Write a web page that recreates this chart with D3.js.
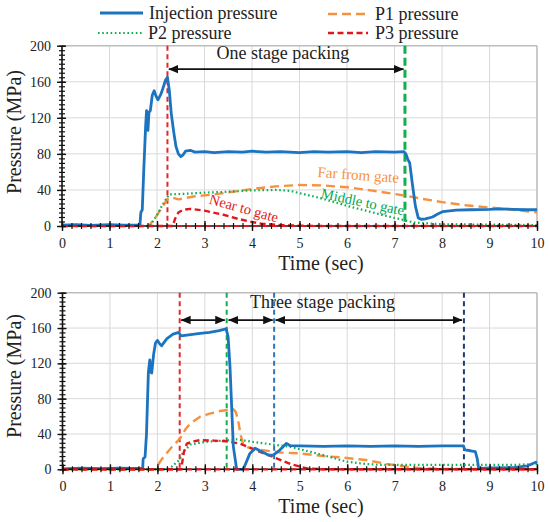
<!DOCTYPE html>
<html>
<head>
<meta charset="utf-8">
<script src="https://cdn.jsdelivr.net/npm/d3@7"></script>
<style>
  body { margin: 0; background: #fff; }
  text { font-family: "Liberation Serif", "Times New Roman", serif; fill: #222; }
</style>
</head>
<body>
<script>
"use strict";

// ---- data (time in sec, pressure in MPa) ----
var timeTicks = [0, 1, 2, 3, 4, 5, 6, 7, 8, 9, 10];
var pressureTicks = [0, 40, 80, 120, 160, 200];

var topInjection = [[0,1],[0.3,1.5],[0.6,0.8],[1,1.4],[1.3,0.9],[1.64,1],[1.66,15],[1.69,18],[1.72,60],[1.76,110],
  [1.78,128],[1.8,112],[1.81,106],[1.83,126],[1.86,128],[1.9,145],[1.94,150],[1.98,144],[2.02,140],[2.08,146],
  [2.12,152],[2.18,162],[2.22,165],[2.26,150],[2.3,125],[2.35,105],[2.4,88],[2.45,80],[2.5,77],[2.55,79],
  [2.6,83],[2.7,84],[2.8,82],[3,82.5],[3.2,81.5],[3.5,82.5],[3.8,82],[4,83],[4.3,82],[4.6,82.5],[5,81.5],
  [5.3,82.5],[5.6,82],[6,82.5],[6.3,81.5],[6.6,82.5],[7,82],[7.2,82.5],[7.24,80],[7.28,74],[7.32,70],
  [7.38,45],[7.44,22],[7.5,9],[7.56,7.5],[7.65,8],[7.8,10],[7.9,13],[8.02,16],[8.3,17.5],[8.6,18],[9,18.5],
  [9.2,19],[9.5,18.5],[9.8,18],[10,18]];
var topP1 = [[0,0],[1.83,0],[2,12],[2.1,20],[2.22,30],[2.3,32],[2.45,29.5],[2.6,31],[2.8,33],[3.2,35],[3.6,38],
  [4,41],[4.5,44],[5,45.5],[5.5,45],[6,43],[6.5,39.5],[7,35.5],[7.3,33],[7.6,30],[8,26.5],[8.5,23],[9,20.5],
  [9.5,18],[10,15]];
var topP2 = [[0,0],[1.85,0],[2,12],[2.1,22],[2.25,35],[2.5,35.5],[3,37],[3.5,38],[4,39.5],[4.5,40],[4.8,39],
  [5,36.5],[5.43,31],[5.8,25.5],[6.06,21.5],[6.4,17],[6.76,12],[7.19,6.7],[7.4,4],[7.7,3],[8,2],[9,1.5],[10,1]];
var topP3 = [[0,0],[2.33,0],[2.38,8],[2.45,15],[2.55,18],[2.7,19],[3,17],[3.4,12.5],[3.7,8],[3.95,5],
  [4.2,2.5],[4.6,1],[5,0.3],[5.5,0],[10,0]];

var bottomInjection = [[0,0.5],[0.4,1.2],[0.8,0.8],[1.2,1.4],[1.5,1],[1.69,1],[1.7,12],[1.74,14],[1.77,40],
  [1.81,110],[1.84,124],[1.86,110],[1.88,109],[1.92,130],[1.96,143],[2,146],[2.05,142],[2.09,140],[2.2,148],
  [2.33,153],[2.45,155],[2.5,151],[2.7,152.5],[2.9,154],[3.1,155],[3.3,157],[3.45,159],[3.49,150],[3.53,116],
  [3.6,26],[3.67,0],[3.81,0],[3.88,9],[3.95,18],[4.06,23.8],[4.2,20],[4.35,16],[4.44,16],[4.58,21.8],
  [4.72,29.4],[4.8,26.7],[5,26.5],[5.5,26],[6,26.5],[6.5,26],[7,26.5],[7.5,26],[8,26.5],[8.45,26.5],
  [8.48,22],[8.6,21],[8.7,20],[8.74,12],[8.77,1],[9,1.5],[9.5,2],[9.8,4],[10,8.5]];
var bottomP1 = [[0,0],[1.95,0],[2.1,12],[2.3,25],[2.48,35],[2.6,46],[2.7,52],[2.9,59.5],[3.1,63],[3.32,66],
  [3.6,68],[3.65,65],[3.7,56],[3.75,40],[3.8,30],[3.9,25],[4.16,22],[4.6,19],[5,18],[5.5,15],[5.85,13.6],
  [6.4,10.5],[6.83,6],[7.25,3],[7.6,1],[8,0.5],[10,0]];
var bottomP2 = [[0,0],[2.2,0],[2.3,3],[2.45,10],[2.55,20],[2.7,28],[3,31],[3.4,32.5],[3.67,34],[4.02,31],
  [4.58,27],[4.79,25.6],[5.43,17],[5.99,8.6],[6.4,6],[6.69,5],[7.5,5],[8.5,5],[9.5,5],[10,6]];
var bottomP3 = [[0,0],[2.5,0],[2.53,10],[2.56,20],[2.62,29],[2.75,31.5],[2.9,33],[3.2,32.5],[3.46,31.7],
  [3.74,29],[3.88,26],[4.1,21],[4.44,14],[4.8,6],[5.15,1],[5.5,0],[10,0]];

var topMarkerTimes = [2.22, 7.22];
var bottomMarkerTimes = [2.47, 3.46, 4.46, 8.46];
var topArrowSpans = [[2.25, 7.19]];
var bottomArrowSpans = [[2.5, 3.42], [3.5, 4.43], [4.49, 8.42]];

var legendNames = ["Injection pressure", "P1 pressure", "P2 pressure", "P3 pressure"];

// ---- styles ----
var cInj = "#1c74c0", cP1 = "#f6923f", cP2 = "#0fae55", cP3 = "#e3171b";
var cGrid = "#d9d9d9";

var svg = d3.select("body").append("svg")
  .attr("width", 550).attr("height", 522);

var defs = svg.append("defs");
defs.append("marker").attr("id", "ahead")
  .attr("viewBox", "0 0 10 10").attr("refX", 9.5).attr("refY", 5)
  .attr("markerWidth", 10).attr("markerHeight", 10)
  .attr("markerUnits", "userSpaceOnUse")
  .attr("orient", "auto-start-reverse")
  .append("path").attr("d", "M0,0.8 L10,5 L0,9.2 Z").attr("fill", "#111");

var lineStyles = [
  {color: cInj, width: 2.8, dash: null},
  {color: cP1, width: 2.4, dash: "9,5"},
  {color: cP2, width: 2.2, dash: "1.6,2.6"},
  {color: cP3, width: 2.4, dash: "6,3.5"}
];

function drawPanel(box, series, markerTimes, markerColors, markerWidths, arrows, arrowP) {
  var x = d3.scaleLinear().domain([0, 10]).range([box.left, box.right]);
  var y = d3.scaleLinear().domain([0, 200]).range([box.bottom, box.top]);
  var g = svg.append("g");

  // grid
  g.append("g").selectAll("line").data(timeTicks.slice(1, 10)).enter().append("line")
    .attr("x1", x).attr("x2", x).attr("y1", box.top).attr("y2", box.bottom)
    .attr("stroke", cGrid).attr("stroke-width", 1);
  g.append("g").selectAll("line").data(pressureTicks.slice(1, 5)).enter().append("line")
    .attr("x1", box.left).attr("x2", box.right).attr("y1", y).attr("y2", y)
    .attr("stroke", cGrid).attr("stroke-width", 1);
  // frame top / right
  g.append("line").attr("x1", box.left).attr("x2", box.right).attr("y1", y(200)).attr("y2", y(200))
    .attr("stroke", "#bdbdbd").attr("stroke-width", 1.6);
  g.append("line").attr("x1", x(10)).attr("x2", x(10)).attr("y1", box.top).attr("y2", box.bottom)
    .attr("stroke", "#bdbdbd").attr("stroke-width", 1.6);

  // vertical markers
  markerTimes.forEach(function(t, i) {
    g.append("line").attr("x1", x(t)).attr("x2", x(t)).attr("y1", box.top).attr("y2", box.bottom)
      .attr("stroke", markerColors[i]).attr("stroke-width", markerWidths[i])
      .attr("stroke-dasharray", markerWidths[i] > 2.5 ? "8,4" : "5,3.5");
  });

  // series
  var line = d3.line().x(function(d) { return x(d[0]); }).y(function(d) { return y(d[1]); });
  [1, 2, 3, 0].forEach(function(k) {
    var st = lineStyles[k];
    g.append("path").datum(series[k]).attr("d", line)
      .attr("fill", "none").attr("stroke", st.color).attr("stroke-width", st.width)
      .attr("stroke-linejoin", "round")
      .attr("stroke-dasharray", st.dash);
  });
  // baseline: black axis under the red zero-level dashes
  g.append("line").attr("x1", box.left).attr("x2", box.right).attr("y1", y(0)).attr("y2", y(0))
    .attr("stroke", "#111").attr("stroke-width", 1.4);
  g.append("line").attr("x1", box.left).attr("x2", box.right).attr("y1", y(0)).attr("y2", y(0))
    .attr("stroke", cP3).attr("stroke-width", 2.2).attr("stroke-dasharray", "6,3.5");

  // arrows
  arrows.forEach(function(s) {
    g.append("line").attr("x1", x(s[0])).attr("x2", x(s[1])).attr("y1", y(arrowP)).attr("y2", y(arrowP))
      .attr("stroke", "#111").attr("stroke-width", 1.8)
      .attr("marker-start", "url(#ahead)").attr("marker-end", "url(#ahead)");
  });

  // axes
  var xAxis = d3.axisBottom(x).tickValues(timeTicks).tickSize(5).tickFormat(d3.format("d"));
  var xMinor = d3.axisBottom(x).tickValues(d3.range(0, 10.01, 0.2)).tickSize(3).tickFormat("");
  var yAxis = d3.axisLeft(y).tickValues(pressureTicks).tickSize(5);
  var yMinor = d3.axisLeft(y).tickValues(d3.range(0, 200.1, 5)).tickSize(3).tickFormat("");

  var gx = g.append("g").attr("transform", "translate(0," + box.bottom + ")").call(xMinor);
  gx.selectAll(".tick line").attr("y1", -3).attr("y2", 3).attr("stroke", "#111").attr("stroke-width", 1.2);
  gx.select(".domain").remove();
  var gx2 = g.append("g").attr("transform", "translate(0," + box.bottom + ")").call(xAxis);
  gx2.select(".domain").remove();
  gx2.selectAll(".tick line").attr("y1", -5).attr("y2", 5).attr("stroke", "#111").attr("stroke-width", 1.4);
  gx2.selectAll(".tick text").attr("y", 12).attr("font-size", 14)
    .attr("font-family", "Liberation Serif").style("fill", "#222");

  var gy = g.append("g").attr("transform", "translate(" + box.left + ",0)").call(yMinor);
  gy.selectAll(".tick line").attr("x1", -3).attr("x2", 3).attr("stroke", "#111").attr("stroke-width", 1.2);
  gy.select(".domain").remove();
  var gy2 = g.append("g").attr("transform", "translate(" + box.left + ",0)").call(yAxis);
  gy2.select(".domain").attr("stroke", "#111").attr("stroke-width", 1.6)
    .attr("d", "M0," + box.top + "V" + box.bottom);
  gy2.selectAll(".tick line").attr("x1", -5).attr("x2", 4).attr("stroke", "#111").attr("stroke-width", 1.4);
  gy2.selectAll(".tick text").attr("x", -11).attr("font-size", 14)
    .attr("font-family", "Liberation Serif").style("fill", "#222");

  // axis titles
  g.append("text").attr("transform", "translate(21," + box.titleY + ") rotate(-90)")
    .attr("text-anchor", "middle").attr("font-size", 20).text("Pressure (MPa)");
  g.append("text").attr("x", 321).attr("y", box.bottom + 44)
    .attr("text-anchor", "middle").attr("font-size", 20).text("Time (sec)");

  return {x: x, y: y, g: g};
}

var topPanel = drawPanel({left: 62, right: 537, top: 45.7, bottom: 226, titleY: 132},
  [topInjection, topP1, topP2, topP3], topMarkerTimes, ["#e3282b", "#10b04f"], [2, 3], topArrowSpans, 174);
var botPanel = drawPanel({left: 62.5, right: 537, top: 292.7, bottom: 469.3, titleY: 376},
  [bottomInjection, bottomP1, bottomP2, bottomP3], bottomMarkerTimes,
  ["#e3282b", "#10b04f", "#2e75b6", "#1f3a78"], [2, 2, 2, 2], bottomArrowSpans, 169);

// panel annotations
topPanel.g.append("text").attr("x", topPanel.x(4.65)).attr("y", topPanel.y(192) + 6)
  .attr("text-anchor", "middle").attr("font-size", 18).text("One stage packing");
botPanel.g.append("text").attr("x", botPanel.x(5.48)).attr("y", botPanel.y(190) + 6)
  .attr("text-anchor", "middle").attr("font-size", 18).text("Three stage packing");

function tag(p, t, v, ang, size, txt, col) {
  p.g.append("text")
    .attr("transform", "translate(" + p.x(t) + "," + (p.y(v) + 5) + ") rotate(" + ang + ")")
    .attr("text-anchor", "middle").attr("font-size", size).style("fill", col).text(txt);
}
tag(topPanel, 6.23, 56.7, 4, 15, "Far from gate", cP1);
tag(topPanel, 6.31, 27, 12, 14.5, "Middle to gate", "#00a84f");
tag(topPanel, 3.8, 20, 15.5, 14.5, "Near to gate", cP3);

// legend
var leg = svg.append("g");
var legendPos = [[100, 143, 149, 13], [328, 368, 375, 14], [98, 143, 148, 33], [328, 368, 375, 33]];
legendNames.forEach(function(name, i) {
  var p = legendPos[i], st = lineStyles[i];
  leg.append("line").attr("x1", p[0]).attr("x2", p[1]).attr("y1", p[3]).attr("y2", p[3])
    .attr("stroke", st.color).attr("stroke-width", st.width).attr("stroke-dasharray", st.dash);
  leg.append("text").attr("x", p[2]).attr("y", p[3] + 6).attr("font-size", 18).text(name);
});
</script>
</body>
</html>
